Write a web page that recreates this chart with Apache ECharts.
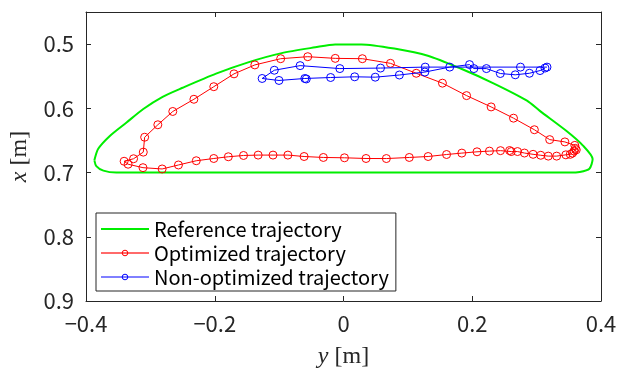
<!DOCTYPE html>
<html><head><meta charset="utf-8">
<script src="https://cdn.jsdelivr.net/npm/echarts@6/dist/echarts.min.js"></script>
<style>html,body{margin:0;padding:0;background:#fff}#c{width:631px;height:374px}</style>
</head><body><div id="c"></div>
<script>
// Reference trajectory (horizontal: y [m], vertical: x [m])
const refY = [-0.387,-0.381,-0.363,-0.337,-0.311,-0.281,-0.250,-0.198,-0.147,-0.096,-0.044,-0.013,0.028,0.079,0.131,0.182,0.233,0.285,0.305,0.346,0.372,0.387,0.382,0.367,0.352,-0.353,-0.373,-0.384,-0.387];
const refX = [0.681,0.663,0.643,0.622,0.601,0.582,0.568,0.546,0.528,0.514,0.505,0.5005,0.5005,0.507,0.518,0.538,0.561,0.588,0.604,0.635,0.658,0.679,0.694,0.699,0.700,0.700,0.697,0.690,0.681];
// Optimized trajectory
const optY = [0.3601,0.3582,0.3557,0.3523,0.3454,0.3311,0.3181,0.3064,0.2945,0.2811,0.2703,0.2606,0.2580,0.2439,0.2267,0.2074,0.1838,0.1601,0.1315,0.1022,0.0666,0.0350,0.0015,-0.0313,-0.0612,-0.0864,-0.1095,-0.1326,-0.1553,-0.1789,-0.2015,-0.2287,-0.2564,-0.2817,-0.3115,-0.3346,-0.3408,-0.3261,-0.3110,-0.3089,-0.2884,-0.2652,-0.2324,-0.2015,-0.1701,-0.1377,-0.0976,-0.0555,-0.0128,0.0293,0.0729,0.1130,0.1537,0.1912,0.2293,0.2641,0.2965,0.3203,0.3439,0.3593,0.3616];
const optX = [0.6623,0.6666,0.6697,0.6716,0.6724,0.6744,0.6744,0.6731,0.6716,0.6696,0.6673,0.6673,0.6657,0.6659,0.6666,0.6677,0.6697,0.6719,0.6750,0.6765,0.6782,0.6781,0.6770,0.6765,0.6750,0.6728,0.6728,0.6728,0.6734,0.6754,0.6781,0.6816,0.6882,0.6944,0.6924,0.6870,0.6824,0.6785,0.6682,0.6450,0.6256,0.6049,0.5859,0.5663,0.5463,0.5324,0.5227,0.5196,0.5222,0.5227,0.5299,0.5454,0.5608,0.5802,0.5978,0.6153,0.6333,0.6487,0.6523,0.6577,0.6646];
// Non-optimized trajectory
const nonY = [0.3161,0.2749,0.1269,0.0575,-0.0057,-0.0674,-0.1075,-0.1264,-0.1002,-0.0601,-0.0578,-0.0200,0.0174,0.0493,0.0868,0.1264,0.1650,0.1958,0.2025,0.2220,0.2436,0.2668,0.2888,0.3053,0.3130];
const nonX = [0.5358,0.5358,0.5358,0.5373,0.5381,0.5335,0.5407,0.5535,0.5566,0.5535,0.5543,0.5520,0.5509,0.5515,0.5481,0.5435,0.5358,0.5319,0.5381,0.5381,0.5458,0.5478,0.5454,0.5412,0.5373];
// Tick values
const hTicks = [-0.4,-0.2,0,0.2,0.4];
const vTicks = [0.5,0.6,0.7,0.8,0.9];
const seriesNames = ['Reference trajectory','Optimized trajectory','Non-optimized trajectory'];

const zip = (a,b) => a.map((v,i)=>[v,b[i]]);
const AX = '#262626';
const RED = '#ff0000', BLUE = '#0000ff', GREEN = '#00ee00';
const labelFont = '"Noto Sans CJK JP", "Noto Sans", sans-serif';

const chart = echarts.init(document.getElementById('c'), null, {renderer:'canvas'});
const baseX = {type:'value', min:-0.4, max:0.4, interval:0.2,
  axisLine:{show:true, onZero:false, lineStyle:{color:AX, width:1}},
  axisTick:{show:true, inside:true, length:5, lineStyle:{color:AX}, customValues:hTicks},
  splitLine:{show:false}};
const baseY = {type:'value', min:0.45, max:0.9, inverse:true, interval:0.05,
  axisLine:{show:true, onZero:false, lineStyle:{color:AX, width:1}},
  axisTick:{show:true, inside:true, length:5, lineStyle:{color:AX}, customValues:vTicks},
  splitLine:{show:false}};

chart.setOption({
  animation:false,
  backgroundColor:'#fff',
  grid:{left:83, right:30, top:12, bottom:70, containLabel:false},
  xAxis:[
    Object.assign({}, baseX, {position:'bottom',
      axisLabel:{show:true, color:AX, fontSize:22, fontFamily:labelFont, margin:12, customValues:hTicks,
        formatter:v=>(v<0?'\u2212'+Math.abs(v):String(v))},
      name:'{i|y} [m]', nameLocation:'middle', nameGap:44,
      nameTextStyle:{color:AX, fontFamily:'"Liberation Serif", serif', fontSize:24,
        rich:{i:{fontStyle:'italic', fontFamily:'"Liberation Serif", serif', fontSize:24, color:AX}}}}),
    Object.assign({}, baseX, {position:'top', axisLabel:{show:false}})
  ],
  yAxis:[
    Object.assign({}, baseY, {position:'left',
      axisLabel:{show:true, color:AX, fontSize:22, fontFamily:labelFont, margin:12, customValues:vTicks,
        formatter:v=>v.toFixed(1)},
      name:'{i|x} [m]', nameLocation:'middle', nameGap:54, nameRotate:90,
      nameTextStyle:{color:AX, fontFamily:'"Liberation Serif", serif', fontSize:24,
        rich:{i:{fontStyle:'italic', fontFamily:'"Liberation Serif", serif', fontSize:24, color:AX}}}}),
    Object.assign({}, baseY, {position:'right', axisLabel:{show:false}})
  ],
  legend:{
    show:true, orient:'vertical', left:96, top:213,
    data:[
      {name:seriesNames[0], itemStyle:{opacity:0}, lineStyle:{color:GREEN, width:2}},
      {name:seriesNames[1], itemStyle:{color:'rgba(255,255,255,0)', borderColor:RED, borderWidth:1}, lineStyle:{color:'#ff6a6a', width:2}},
      {name:seriesNames[2], itemStyle:{color:'rgba(255,255,255,0)', borderColor:BLUE, borderWidth:1}, lineStyle:{color:BLUE, width:1}}
    ],
    backgroundColor:'#fff', borderColor:AX, borderWidth:1, borderRadius:0,
    padding:[6,7,4,4], itemGap:4, itemWidth:48, itemHeight:7,
    textStyle:{color:'#000', fontSize:20, fontFamily:labelFont, lineHeight:20}
  },
  series:[
    {name:seriesNames[0], type:'line', data:zip(refY,refX), symbol:'none', smooth:0.25,
      lineStyle:{color:GREEN, width:2}, itemStyle:{color:GREEN}, z:2},
    {name:seriesNames[1], type:'line', data:zip(optY,optX), symbol:'circle', symbolSize:8,
      lineStyle:{color:RED, width:1},
      itemStyle:{color:'rgba(255,255,255,0)', borderColor:RED, borderWidth:1}, z:3},
    {name:seriesNames[2], type:'line', data:zip(nonY,nonX), symbol:'circle', symbolSize:8,
      lineStyle:{color:BLUE, width:1},
      itemStyle:{color:'rgba(255,255,255,0)', borderColor:BLUE, borderWidth:1}, z:4}
  ]
});
</script></body></html>
